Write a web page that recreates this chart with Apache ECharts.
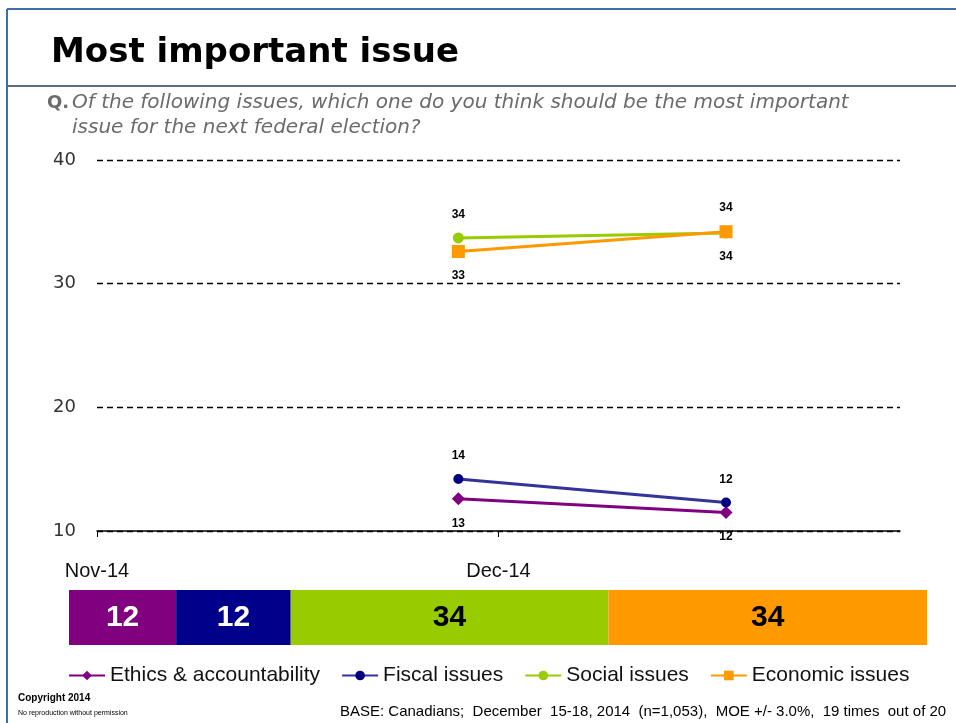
<!DOCTYPE html>
<html>
<head>
<meta charset="utf-8">
<script src="https://cdn.jsdelivr.net/npm/echarts@6/dist/echarts.min.js"></script>
<style>
html,body{margin:0;padding:0;background:#fff;}
#chart{width:956px;height:723px;}
</style>
</head>
<body>
<div id="chart"></div>
<script>
// ---- data ----
const pointDates = ['2014-11-28', '2014-12-18'];
const xTickDates = ['2014-11-01', '2014-12-01'];
const xTickLabels = ['Nov-14', 'Dec-14'];
const seriesNames = ['Ethics & accountability', 'Fiscal issues', 'Social issues', 'Economic issues'];
const ethicsValues = [12.6, 11.5];
const fiscalValues = [14.2, 12.3];
const socialValues = [33.7, 34.1];
const economicValues = [32.6, 34.2];
const yMin = 10, yMax = 40, yStep = 10;

const title = 'Most important issue';
const questionLine1 = 'Of the following issues, which one do you think should be the most important';
const questionLine2 = 'issue for the next federal election?';
const footerBase = 'BASE: Canadians;  December  15-18, 2014  (n=1,053),  MOE +/- 3.0%,  19 times  out of 20';

// ---- helpers ----
function ts(s) { const p = s.split('-').map(Number); return new Date(p[0], p[1] - 1, p[2]).getTime(); }
const tickTs = xTickDates.map(ts);

const lineColors = ['#800080', '#333399', '#99CC00', '#FF9900'];
const markerColors = ['#800080', '#000080', '#99CC00', '#FF9900'];
const barColors = ['#800080', '#00008B', '#99CC00', '#FF9900'];
const barLabelColors = ['#ffffff', '#ffffff', '#000000', '#000000'];
const symbols = ['diamond', 'circle', 'circle', 'rect'];
const symbolSizes = [13, 10, 11, 13];
const labelPositions = [['bottom', 'bottom'], ['top', 'top'], ['top', 'bottom'], ['bottom', 'top']];
const allValues = [ethicsValues, fiscalValues, socialValues, economicValues];

const lineSeries = allValues.map((vals, i) => ({
  name: seriesNames[i],
  type: 'line',
  xAxisIndex: 0, yAxisIndex: 0,
  data: vals.map((v, j) => ({
    value: [ts(pointDates[j]), v],
    label: { position: labelPositions[i][j] }
  })),
  symbol: symbols[i],
  symbolSize: symbolSizes[i],
  showAllSymbol: true,
  lineStyle: { color: lineColors[i], width: 3 },
  itemStyle: { color: markerColors[i] },
  label: {
    show: true,
    distance: 12,
    formatter: p => String(Math.round(p.value[1])),
    fontFamily: 'Liberation Sans, Arial, sans-serif',
    fontWeight: 'bold',
    fontSize: 12,
    color: '#000'
  },
  emphasis: { disabled: true },
  z: 3 + i
}));

const barSeries = allValues.map((vals, i) => ({
  name: 'bar-' + seriesNames[i],
  type: 'bar',
  stack: 'total',
  xAxisIndex: 1, yAxisIndex: 1,
  barWidth: '100%',
  data: [vals[vals.length - 1]],
  itemStyle: { color: barColors[i] },
  label: {
    show: true,
    position: 'inside',
    formatter: p => String(Math.round(p.value)),
    fontFamily: 'Liberation Sans, Arial, sans-serif',
    fontWeight: 'bold',
    fontSize: 30,
    color: barLabelColors[i]
  },
  emphasis: { disabled: true }
}));

const chart = echarts.init(document.getElementById('chart'), null, { renderer: 'canvas' });
chart.setOption({
  animation: false,
  backgroundColor: '#ffffff',
  title: {
    text: title,
    left: 46, top: 31,
    textStyle: { fontFamily: 'DejaVu Sans, sans-serif', fontWeight: 'bold', fontSize: 34, color: '#000' }
  },
  legend: {
    data: seriesNames,
    left: 63, top: 660,
    itemWidth: 36, itemHeight: 12, itemGap: 21,
    textStyle: { fontFamily: 'Liberation Sans, Arial, sans-serif', fontSize: 21, color: '#111' },
    selectedMode: false
  },
  grid: [
    { left: 97, right: 56, top: 160, bottom: 192, outerBoundsMode: 'none' },
    { left: 69, right: 29, top: 590, height: 55, outerBoundsMode: 'none' }
  ],
  xAxis: [
    {
      gridIndex: 0, type: 'value',
      min: ts('2014-11-01'), max: ts('2014-12-31'),
      axisLine: { show: true, onZero: false, lineStyle: { color: '#000', width: 1.5 } },
      axisTick: { show: true, customValues: tickTs, length: 6, lineStyle: { color: '#000' } },
      axisLabel: {
        customValues: tickTs,
        margin: 30,
        formatter: v => { const k = tickTs.indexOf(v); return k >= 0 ? xTickLabels[k] : ''; },
        fontFamily: 'Liberation Sans, Arial, sans-serif', fontSize: 20, color: '#111'
      },
      splitLine: { show: false }
    },
    { gridIndex: 1, type: 'value', min: 0, max: 'dataMax', show: false }
  ],
  yAxis: [
    {
      gridIndex: 0, type: 'value', min: yMin, max: yMax, interval: yStep,
      axisLine: { show: false }, axisTick: { show: false },
      axisLabel: { margin: 21, fontFamily: 'DejaVu Sans, sans-serif', fontSize: 18, color: '#333' },
      splitLine: { show: true, lineStyle: { color: '#000', width: 1.3, type: [6, 4] } }
    },
    { gridIndex: 1, type: 'category', data: ['Dec-14'], show: false }
  ],
  graphic: [
    { type: 'line', shape: { x1: 7, y1: 9, x2: 7, y2: 723 }, style: { stroke: '#3f6cae', lineWidth: 2 } },
    { type: 'line', shape: { x1: 7, y1: 9, x2: 956, y2: 9 }, style: { stroke: '#3f6cae', lineWidth: 2 } },
    { type: 'line', shape: { x1: 7, y1: 86, x2: 956, y2: 86 }, style: { stroke: '#5c6b80', lineWidth: 2 } },
    { type: 'text', x: 47, y: 103, style: { text: 'Q.', font: 'bold 18px "DejaVu Sans", sans-serif', fill: '#6b6b6b', verticalAlign: 'middle' } },
    { type: 'text', x: 72, y: 103, style: { text: questionLine1, font: 'oblique 20px "DejaVu Sans", sans-serif', fill: '#6b6b6b', verticalAlign: 'middle' } },
    { type: 'text', x: 72, y: 128, style: { text: questionLine2, font: 'oblique 20px "DejaVu Sans", sans-serif', fill: '#6b6b6b', verticalAlign: 'middle' } },
    { type: 'text', x: 18, y: 698, style: { text: 'Copyright 2014', font: 'bold 10px "Liberation Sans", Arial, sans-serif', fill: '#000', verticalAlign: 'middle' } },
    { type: 'text', x: 18, y: 713, style: { text: 'No reproduction without permission', font: '7px "Liberation Sans", Arial, sans-serif', fill: '#000', verticalAlign: 'middle' } },
    { type: 'text', x: 340, y: 712, style: { text: footerBase, font: '15px "Liberation Sans", Arial, sans-serif', fill: '#000', verticalAlign: 'middle' } }
  ],
  series: lineSeries.concat(barSeries)
});
</script>
</body>
</html>
